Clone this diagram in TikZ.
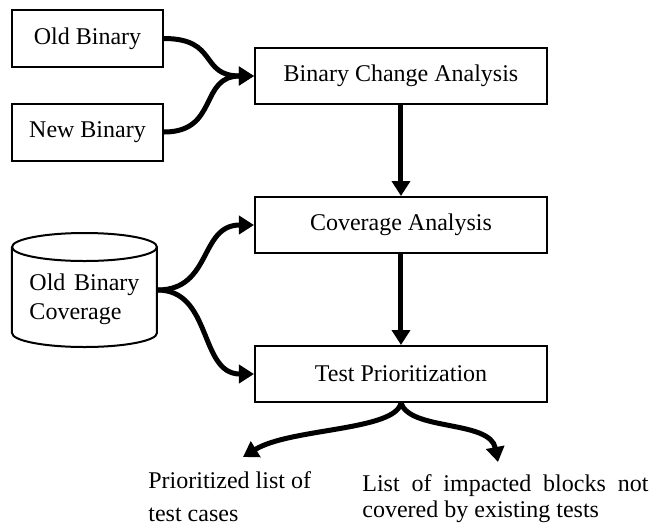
\documentclass[tikz,border=0pt]{standalone}
\usepackage{fontspec}
\setmainfont{Liberation Serif}
\usetikzlibrary{arrows.meta}

\tikzset{
  box/.style = {draw, line width = 1pt, minimum width = 146pt, minimum height = 28pt},
  inbox/.style = {draw, line width = 1pt, minimum width = 75.5pt, minimum height = 28.5pt},
  flow/.style = {line width = 2.5pt, -{Triangle[length = 7.5pt, width = 9pt]}}
}

\begin{document}
\begin{tikzpicture}[x = .5pt, y = -.5pt, font = \fontsize{12}{14.5}\selectfont]
    \useasboundingbox (0, 0) rectangle (661, 527);

    \node (oldbin) [inbox] at (87.5, 38.5) {Old Binary};
    \node (newbin) [inbox] at (87.5, 132) {New Binary};
    \node (bca) [box] at (401, 76) {Binary Change Analysis};
    \node (cov) [box] at (401, 225) {Coverage Analysis};
    \node (prio) [box] at (401, 374) {Test Prioritization};

    % coverage store
    \node (oldcov) [minimum width = 72.5pt, minimum height = 57pt] at (84.5, 290)
          {\parbox{55pt}{\vspace*{9pt}\makebox[55pt][s]{Old Binary}\\Coverage}};
    \draw [line width = 1pt] (84.5, 247) ellipse [x radius = 36.25pt, y radius = 7pt];
    \draw [line width = 1pt] (12, 247) -- (12, 333)
          arc [start angle = 180, end angle = 360, x radius = 36.25pt, y radius = 7pt]
          -- (157, 247);

    \coordinate (listend) at (243, 457);
    \coordinate (blockend) at (498, 462);

    \node (listtxt) [align = left, anchor = north west, inner sep = 0pt]
          at (148, 471) {Prioritized list of\\[2pt]test cases};
    \node (blocktxt) [align = left, anchor = north west, inner sep = 0pt]
          at (362, 474) {\makebox[143pt][s]{List of impacted blocks not}\\[-1.5pt]covered by existing tests};

    \draw [flow] (oldbin.east) .. controls +(55, 0) and +(-55, 0) .. (bca.west);
    \draw [flow] (newbin.east) .. controls +(55, 0) and +(-55, 0) .. (bca.west);
    \draw [flow] (bca.south) -- (cov.north);
    \draw [flow] (cov.south) -- (prio.north);
    \draw [flow] (oldcov.east) .. controls +(55, 0) and +(-55, 0) .. (cov.west);
    \draw [flow] (oldcov.east) .. controls +(55, 0) and +(-55, 0) .. (prio.west);
    \draw [flow] (prio.south) .. controls +(-6, 28) and +(47, -29) .. (listend);
    \draw [flow] (prio.south) .. controls +(9, 28) and +(-8, -42) .. (blockend);
  \end{tikzpicture}
\end{document}
